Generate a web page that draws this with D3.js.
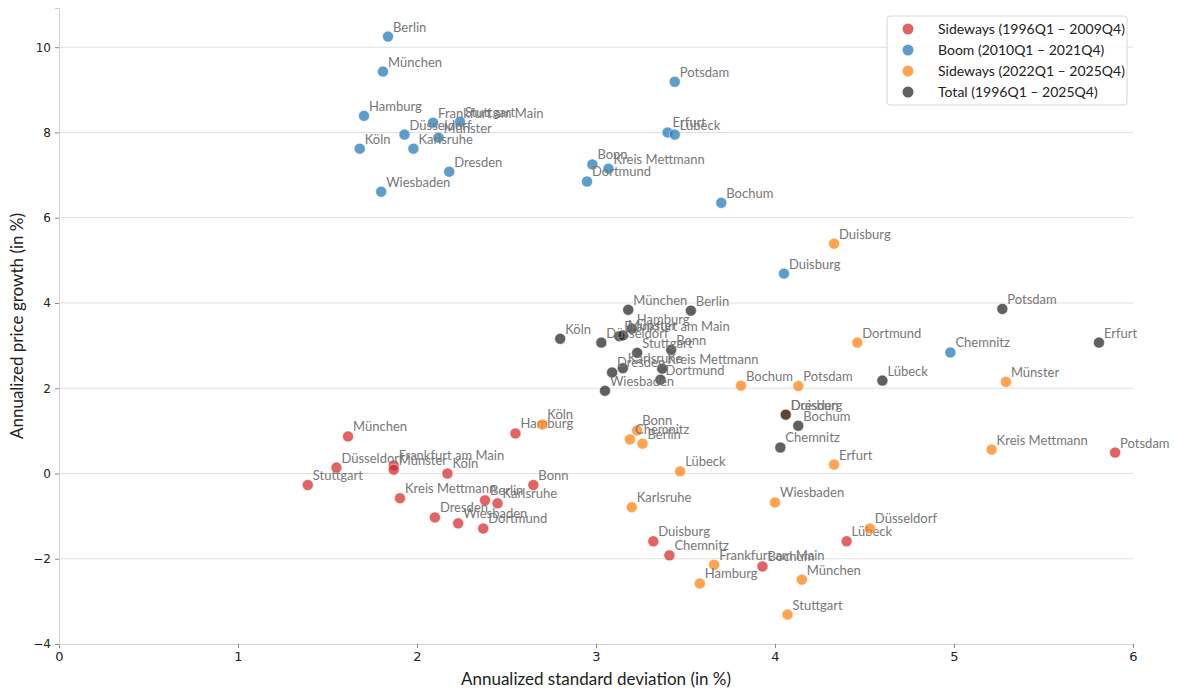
<!DOCTYPE html>
<html>
<head>
<meta charset="utf-8">
<script src="https://cdn.jsdelivr.net/npm/d3@7"></script>
<style>
  body { margin: 0; background: #fff; }
  .lbl { font-family: Lato, sans-serif; font-size: 13px; fill: #777; }
  .tick text { font-family: "DejaVu Sans", sans-serif; font-size: 12px; fill: #222; }
</style>
</head>
<body>
<div id="chart"></div>
<script>
const width = 1180, height = 693;

// period names and cities
const periods = ["Sideways (1996Q1 \u2013 2009Q4)", "Boom (2010Q1 \u2013 2021Q4)", "Sideways (2022Q1 \u2013 2025Q4)", "Total (1996Q1 \u2013 2025Q4)"];
const colors = ["#d62728", "#1f77b4", "#ff7f0e", "#222222"];

// [city, std dev, growth]
const sideways1 = [
  ["München", 1.615, 0.87], ["Düsseldorf", 1.55, 0.14], ["Stuttgart", 1.39, -0.27],
  ["Frankfurt am Main", 1.87, 0.19], ["Münster", 1.87, 0.09], ["Köln", 2.17, 0.00],
  ["Hamburg", 2.55, 0.94], ["Bonn", 2.65, -0.27], ["Kreis Mettmann", 1.905, -0.58],
  ["Berlin", 2.38, -0.63], ["Karlsruhe", 2.45, -0.70], ["Dresden", 2.10, -1.03],
  ["Wiesbaden", 2.23, -1.17], ["Dortmund", 2.37, -1.29], ["Duisburg", 3.32, -1.59],
  ["Chemnitz", 3.41, -1.92], ["Bochum", 3.93, -2.18], ["Lübeck", 4.40, -1.59],
  ["Potsdam", 5.90, 0.49]
];
const boom = [
  ["Berlin", 1.838, 10.25], ["München", 1.81, 9.43], ["Hamburg", 1.704, 8.39],
  ["Frankfurt am Main", 2.09, 8.23], ["Stuttgart", 2.24, 8.25], ["Düsseldorf", 1.93, 7.95],
  ["Münster", 2.12, 7.88], ["Köln", 1.68, 7.62], ["Karlsruhe", 1.98, 7.62],
  ["Dresden", 2.18, 7.08], ["Wiesbaden", 1.80, 6.61], ["Bonn", 2.98, 7.25],
  ["Kreis Mettmann", 3.07, 7.15], ["Dortmund", 2.95, 6.85], ["Potsdam", 3.44, 9.19],
  ["Erfurt", 3.40, 8.00], ["Lübeck", 3.44, 7.95], ["Bochum", 3.70, 6.35],
  ["Duisburg", 4.05, 4.69], ["Chemnitz", 4.98, 2.84]
];
const sideways2 = [
  ["Duisburg", 4.33, 5.39], ["Dortmund", 4.46, 3.07], ["Bochum", 3.81, 2.06],
  ["Potsdam", 4.13, 2.05], ["Münster", 5.29, 2.15], ["Dresden", 4.06, 1.38],
  ["Erfurt", 4.33, 0.21], ["Kreis Mettmann", 5.21, 0.56], ["Köln", 2.70, 1.15],
  ["Bonn", 3.23, 1.01], ["Chemnitz", 3.19, 0.80], ["Berlin", 3.26, 0.70],
  ["Lübeck", 3.47, 0.05], ["Karlsruhe", 3.20, -0.79], ["Wiesbaden", 4.00, -0.68],
  ["Düsseldorf", 4.53, -1.29], ["Frankfurt am Main", 3.66, -2.14], ["Hamburg", 3.58, -2.58],
  ["München", 4.15, -2.49], ["Stuttgart", 4.07, -3.31]
];
const total = [
  ["München", 3.18, 3.84], ["Berlin", 3.53, 3.82], ["Köln", 2.80, 3.16],
  ["Düsseldorf", 3.03, 3.07], ["Hamburg", 3.20, 3.40], ["Frankfurt am Main", 3.13, 3.22],
  ["Münster", 3.15, 3.24], ["Stuttgart", 3.23, 2.83], ["Bonn", 3.42, 2.90],
  ["Karlsruhe", 3.15, 2.47], ["Dresden", 3.09, 2.37], ["Kreis Mettmann", 3.37, 2.46],
  ["Dortmund", 3.36, 2.20], ["Wiesbaden", 3.05, 1.94], ["Potsdam", 5.27, 3.86],
  ["Erfurt", 5.81, 3.07], ["Lübeck", 4.60, 2.18], ["Duisburg", 4.06, 1.38],
  ["Bochum", 4.13, 1.12], ["Chemnitz", 4.03, 0.61]
];
const allSeries = [sideways1, boom, sideways2, total];

const xTicks = [0, 1, 2, 3, 4, 5, 6];
const yTicks = [-4, -2, 0, 2, 4, 6, 8, 10];

const svg = d3.select("#chart").append("svg")
  .attr("width", width).attr("height", height);

const x = d3.scaleLinear().domain([0, 6]).range([59, 1133]);
const y = d3.scaleLinear().domain([-4, 10.92]).range([644, 8]);

// gridlines
svg.append("g").selectAll("line").data(yTicks.filter(d => d > -4)).join("line")
  .attr("x1", x(0)).attr("x2", x(6))
  .attr("y1", d => y(d)).attr("y2", d => y(d))
  .attr("stroke", "#e0e0e0").attr("stroke-width", 1);

// axes
const xAxis = svg.append("g").attr("transform", `translate(0,${y(-4)})`)
  .call(d3.axisBottom(x).tickValues(xTicks).tickFormat(d3.format("d")).tickSize(4).tickPadding(4));
const yAxis = svg.append("g").attr("transform", `translate(${x(0)},0)`)
  .call(d3.axisLeft(y).tickValues(yTicks).tickFormat(d3.format("d")).tickSize(4).tickPadding(4));
[xAxis, yAxis].forEach(a => {
  a.select(".domain").attr("stroke", "#d0d0d0");
  a.selectAll(".tick line").attr("stroke", "#888");
});
xAxis.selectAll(".tick text").style("font-size", "13px");
xAxis.select(".tick:last-of-type line").attr("stroke", "#888");
xAxis.append("line").attr("x1", x(6)).attr("x2", x(6)).attr("y1", 0).attr("y2", 0);

svg.append("text")
  .attr("x", (x(0) + x(6)) / 2).attr("y", 685)
  .attr("text-anchor", "middle")
  .style("font-family", "Lato, sans-serif").style("font-size", "17px").style("fill", "#222")
  .text("Annualized standard deviation (in %)");
svg.append("text")
  .attr("transform", `translate(23,${(y(-4) + y(10.92)) / 2}) rotate(-90)`)
  .attr("text-anchor", "middle")
  .style("font-family", "Lato, sans-serif").style("font-size", "17px").style("fill", "#222")
  .text("Annualized price growth (in %)");

// points and labels per period
allSeries.forEach((data, i) => {
  const g = svg.append("g");
  g.selectAll("circle").data(data).join("circle")
    .attr("cx", d => x(d[1])).attr("cy", d => y(d[2]))
    .attr("r", 5.5)
    .attr("fill", colors[i]).attr("fill-opacity", 0.72)
    .attr("stroke", "#fff").attr("stroke-width", 0.5);
  g.selectAll("text").data(data).join("text")
    .attr("class", "lbl")
    .attr("x", d => x(d[1]) + 5).attr("y", d => y(d[2]) - 5)
    .text(d => d[0]);
});

// legend
const lg = svg.append("g").attr("transform", "translate(887,16)");
lg.append("rect").attr("width", 240).attr("height", 89).attr("rx", 3)
  .attr("fill", "#fff").attr("fill-opacity", 0.85).attr("stroke", "#d8d8d8");
periods.forEach((p, i) => {
  const row = lg.append("g").attr("transform", `translate(0,${13 + i * 21})`);
  row.append("circle").attr("cx", 21).attr("cy", 0).attr("r", 5.5)
    .attr("fill", colors[i]).attr("fill-opacity", 0.72);
  row.append("text").attr("x", 51).attr("y", 5)
    .style("font-family", "Lato, sans-serif").style("font-size", "14px").style("fill", "#222")
    .text(p);
});
</script>
</body>
</html>
